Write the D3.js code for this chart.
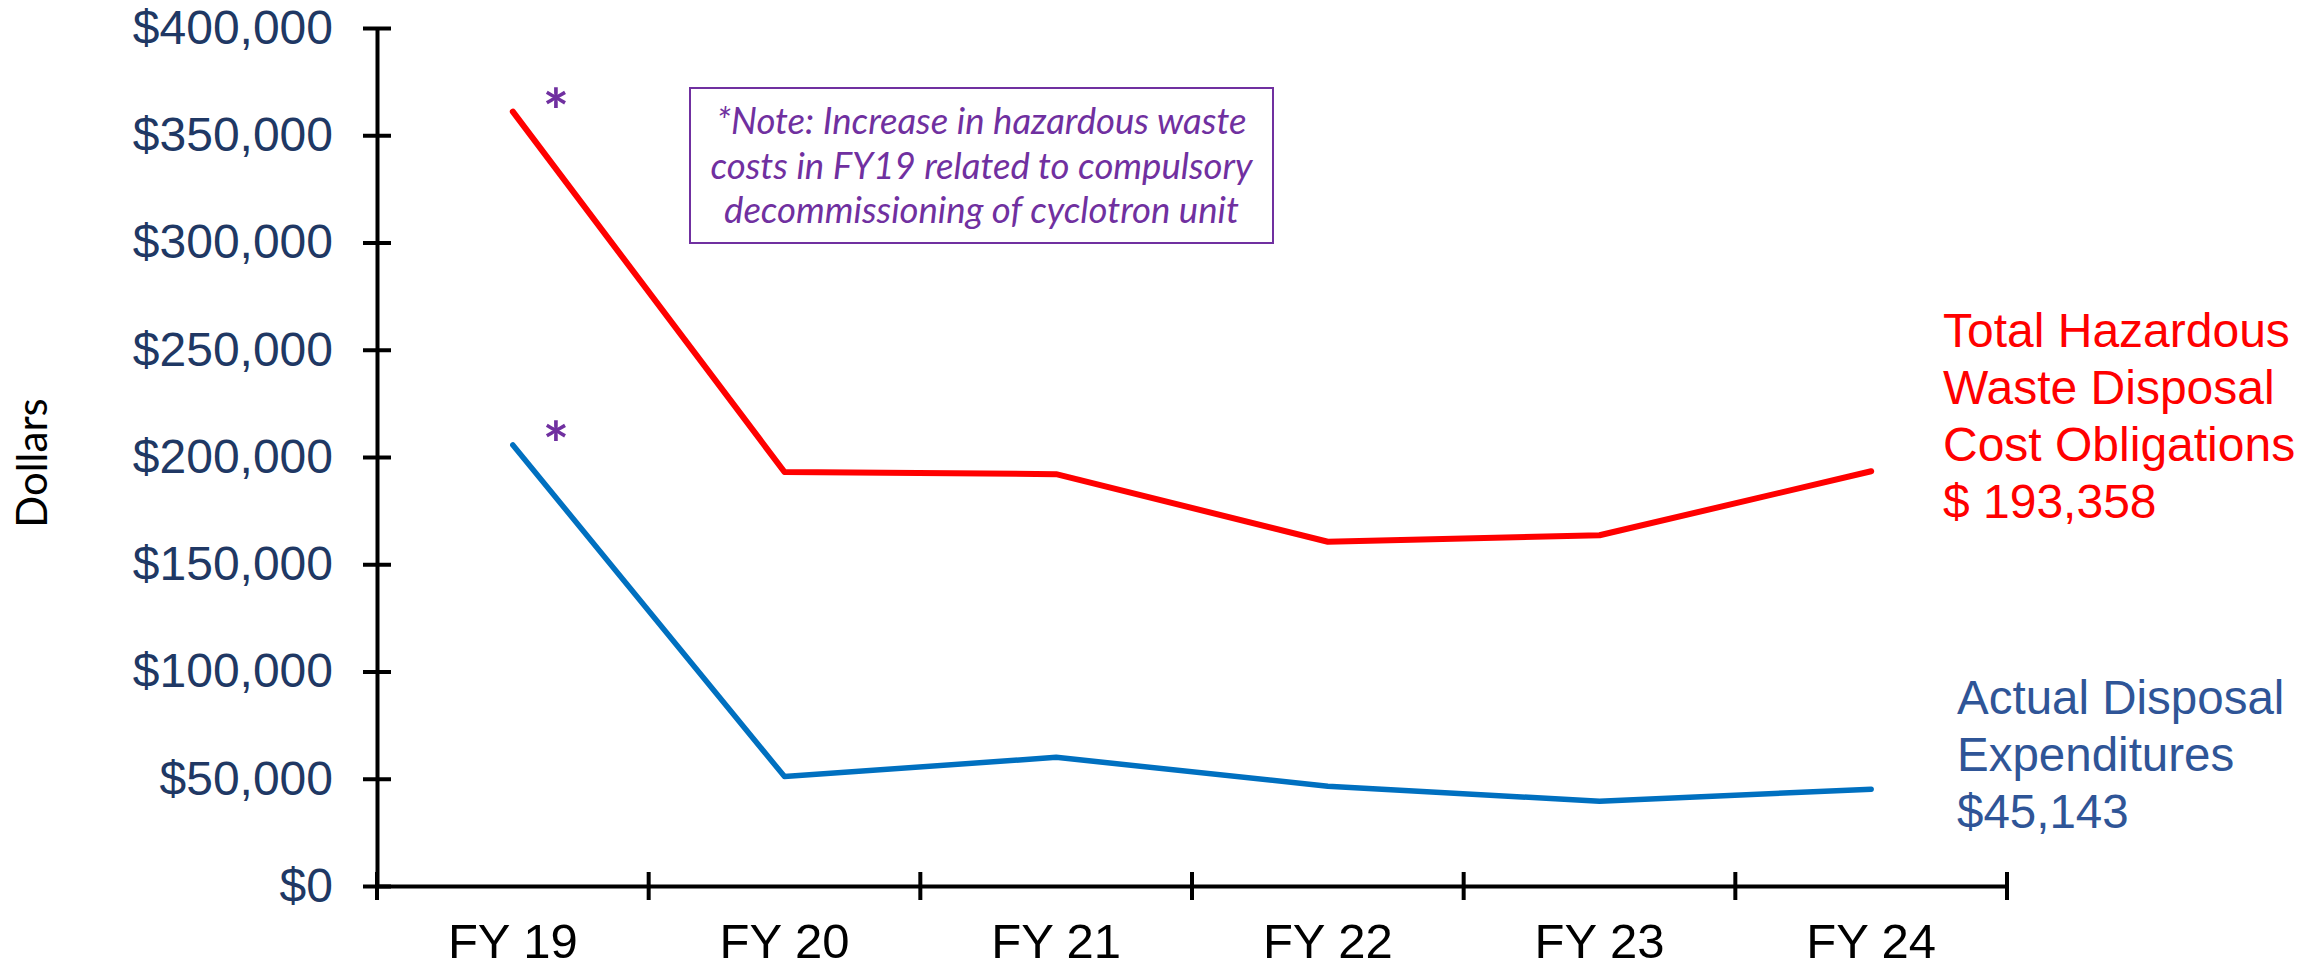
<!DOCTYPE html>
<html>
<head>
<meta charset="utf-8">
<script src="https://cdn.jsdelivr.net/npm/d3@7"></script>
<style>
  html, body { margin: 0; padding: 0; background: #fff; }
  svg { display: block; }
</style>
</head>
<body>
<div id="chart"></div>
<script>
(function(){
  // data
  const categories = ["FY 19", "FY 20", "FY 21", "FY 22", "FY 23", "FY 24"];
  const totalObligations = [361000, 193000, 192000, 160500, 163500, 193358];
  const actualExpenditures = [205600, 51000, 60000, 46500, 39500, 45143];
  const yTicks = [0, 50000, 100000, 150000, 200000, 250000, 300000, 350000, 400000];
  const noteLines = [
    "*Note: Increase in hazardous waste",
    "costs in FY19 related to compulsory",
    "decommissioning of cyclotron unit"
  ];
  const totalLabel = ["Total Hazardous", "Waste Disposal", "Cost Obligations", "$ 193,358"];
  const actualLabel = ["Actual Disposal", "Expenditures", "$45,143"];

  const width = 2317, height = 973;
  const margin = { top: 28, right: 310, bottom: 87, left: 377 };

  const svg = d3.select("#chart").append("svg")
    .attr("width", width)
    .attr("height", height);

  const x = d3.scaleBand()
    .domain(categories)
    .range([margin.left, width - margin.right]);

  const y = d3.scaleLinear()
    .domain([0, 400000])
    .range([height - margin.bottom, margin.top]);

  const fmt = d => "$" + d3.format(",")(d);

  // y axis with crossing ticks
  const yAxis = svg.append("g")
    .attr("transform", `translate(${margin.left},0)`)
    .call(d3.axisLeft(y).tickValues(yTicks).tickFormat(fmt)
      .tickSize(14).tickSizeOuter(0).tickPadding(30));
  yAxis.select(".domain").attr("stroke", "#000").attr("stroke-width", 4);
  yAxis.selectAll(".tick line").attr("x1", 14).attr("stroke", "#000").attr("stroke-width", 4);
  yAxis.selectAll(".tick text")
    .attr("fill", "#203864")
    .style("font-family", "Liberation Sans, Arial, sans-serif")
    .style("font-size", "48px");

  // x axis: labels centred in bands, ticks on band edges
  const x0 = height - margin.bottom;
  const xAxis = svg.append("g")
    .attr("transform", `translate(0,${x0})`)
    .call(d3.axisBottom(x).tickSize(0).tickSizeOuter(0).tickPadding(37));
  xAxis.select(".domain").attr("stroke", "#000").attr("stroke-width", 4);
  xAxis.selectAll(".tick text")
    .attr("fill", "#000")
    .style("font-family", "Liberation Sans, Arial, sans-serif")
    .style("font-size", "49px");

  const edges = categories.map(c => x(c)).concat([x.range()[1]]);
  svg.append("g").selectAll("line")
    .data(edges)
    .join("line")
    .attr("x1", d => d).attr("x2", d => d)
    .attr("y1", x0 - 14).attr("y2", x0 + 14)
    .attr("stroke", "#000").attr("stroke-width", 4);

  // y axis title
  svg.append("text")
    .attr("transform", `translate(47,${463}) rotate(-90)`)
    .attr("text-anchor", "middle")
    .style("font-family", "Lato, sans-serif")
    .style("font-size", "42px")
    .attr("fill", "#000")
    .text("Dollars");

  // lines
  const cx = (d, i) => x(categories[i]) + x.bandwidth() / 2;
  const line = d3.line().x(cx).y(d => y(d));

  svg.append("path")
    .datum(totalObligations)
    .attr("d", line)
    .attr("fill", "none")
    .attr("stroke", "#ff0000")
    .attr("stroke-width", 6)
    .attr("stroke-linecap", "round")
    .attr("stroke-linejoin", "round");

  svg.append("path")
    .datum(actualExpenditures)
    .attr("d", line)
    .attr("fill", "none")
    .attr("stroke", "#0070c0")
    .attr("stroke-width", 5.5)
    .attr("stroke-linecap", "round")
    .attr("stroke-linejoin", "round");

  // asterisks next to FY19 points
  svg.append("g").selectAll("text")
    .data([totalObligations[0], actualExpenditures[0]])
    .join("text")
    .attr("x", cx(null, 0) + 43)
    .attr("y", d => y(d) + 22)
    .attr("text-anchor", "middle")
    .attr("fill", "#7030a0")
    .style("font-family", "Lato, sans-serif")
    .style("font-weight", "bold")
    .style("font-size", "62px")
    .text("*");

  // note box
  const box = { x: 690, y: 88, w: 583, h: 155 };
  svg.append("rect")
    .attr("x", box.x).attr("y", box.y)
    .attr("width", box.w).attr("height", box.h)
    .attr("fill", "none")
    .attr("stroke", "#7030a0")
    .attr("stroke-width", 2);

  const note = svg.append("g").selectAll("text")
    .data(noteLines)
    .join("text")
    .attr("x", box.x + box.w / 2)
    .attr("y", (d, i) => 134 + i * 44.5)
    .attr("text-anchor", "middle")
    .attr("fill", "#7030a0")
    .style("font-family", "Lato, sans-serif")
    .style("font-style", "italic")
    .style("font-size", "100px")
    .text(d => d);
  // fit first line to ~530px like the original
  const w0 = note.nodes()[0].getComputedTextLength();
  note.style("font-size", (100 * 530 / w0) + "px");

  // right side labels
  svg.append("text")
    .attr("x", 1943)
    .attr("fill", "#ff0000")
    .style("font-family", "Liberation Sans, Arial, sans-serif")
    .style("font-size", "48px")
    .selectAll("tspan")
    .data(totalLabel)
    .join("tspan")
    .attr("x", 1943)
    .attr("y", (d, i) => 347 + i * 57)
    .text(d => d);

  svg.append("text")
    .attr("x", 1957)
    .attr("fill", "#2f5597")
    .style("font-family", "Liberation Sans, Arial, sans-serif")
    .style("font-size", "47.5px")
    .selectAll("tspan")
    .data(actualLabel)
    .join("tspan")
    .attr("x", 1957)
    .attr("y", (d, i) => 714 + i * 57)
    .text(d => d);
})();
</script>
</body>
</html>
